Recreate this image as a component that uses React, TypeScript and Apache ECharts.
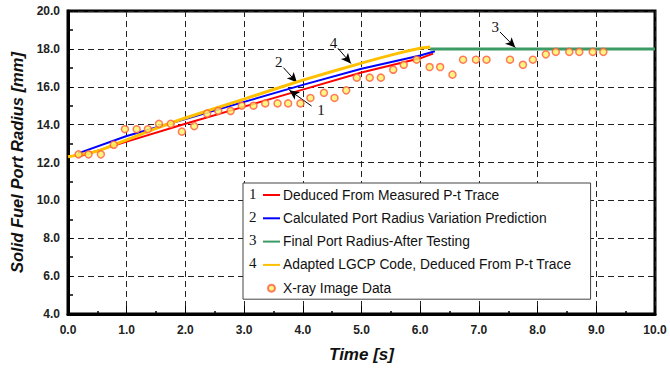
import React, { useEffect, useRef } from "react";
import * as echarts from "echarts";

// X-ray image data
const xrayTime = [0.18, 0.35, 0.56, 0.78, 0.97, 1.17, 1.36, 1.55, 1.75, 1.94, 2.15, 2.37, 2.56, 2.77, 2.96, 3.16, 3.36, 3.57, 3.75, 3.96, 4.13, 4.36, 4.54, 4.74, 4.92, 5.14, 5.33, 5.54, 5.72, 5.94, 6.16, 6.34, 6.55, 6.73, 6.95, 7.13, 7.53, 7.75, 7.92, 8.14, 8.31, 8.54, 8.71, 8.94, 9.12];
const xrayRadius = [12.43, 12.43, 12.43, 12.94, 13.76, 13.76, 13.76, 14.04, 14.04, 13.63, 13.92, 14.58, 14.72, 14.72, 15.0, 15.0, 15.12, 15.12, 15.12, 15.12, 15.41, 15.68, 15.41, 15.81, 16.48, 16.48, 16.48, 16.9, 17.16, 17.43, 17.04, 17.04, 16.64, 17.43, 17.43, 17.43, 17.43, 17.16, 17.43, 17.71, 17.84, 17.84, 17.84, 17.84, 17.84];

// 1 Deduced from measured P-t trace
const deducedTime = [0.17, 1, 2, 3, 4, 5, 6, 6.22];
const deducedRadius = [12.3, 13.1, 14.05, 14.95, 15.85, 16.75, 17.5, 17.75];
// 2 Calculated port radius variation prediction
const calcTime = [0.17, 1, 2, 3, 4, 5, 6, 6.25];
const calcRadius = [12.48, 13.4, 14.3, 15.2, 16.1, 16.95, 17.65, 17.87];
// 3 Final port radius after testing
const finalTime = [6.17, 10];
const finalRadius = [18, 18];
// 4 Adapted LGCP code
const lgcpTime = [0, 0.5, 1, 1.5, 2, 3, 4, 5, 5.6, 6.0, 6.17];
const lgcpRadius = [12.3, 12.6, 13.2, 13.8, 14.35, 15.35, 16.35, 17.25, 17.75, 18.03, 18.1];

// annotation arrows (data coordinates)
const annotLabels = ["1", "2", "3", "4"];
const annotFrom = [[4.15, 14.98], [3.67, 17.01], [7.36, 18.89], [4.6, 18.03]];
const annotTo = [[3.77, 15.82], [3.9, 16.22], [7.62, 18.07], [4.82, 17.23]];

const legendNames = [
  "Deduced From Measured P-t Trace",
  "Calculated Port Radius Variation Prediction",
  "Final Port Radius-After Testing",
  "Adapted LGCP Code, Deduced From P-t Trace",
  "X-ray Image Data",
];
const legendNumbers = ["1", "2", "3", "4"];

const zip = (a: number[], b: number[]) => a.map((v, i) => [v, b[i]]);

export default function App() {
  const ref = useRef<HTMLDivElement>(null);
  useEffect(() => {
    document.body.style.margin = "0";
    const chart = echarts.init(ref.current!, null, { renderer: "svg" });
    const sans = "'Liberation Sans', Arial, sans-serif";
    const serif = "'Liberation Serif', 'Times New Roman', serif";
    const legTop = 183;
    const legPadTop = 4;
    const rowH = 16;
    const rowGap = 7.3;
    const option: any = {
      animation: false,
      backgroundColor: "#fff",
      grid: {
        left: 68,
        right: 15,
        top: 11,
        bottom: 62,
        show: true,
        borderColor: "#000",
        borderWidth: 3,
        backgroundColor: "transparent",
      },
      xAxis: {
        type: "value",
        min: 0,
        max: 10,
        interval: 1,
        name: "Time [s]",
        nameLocation: "middle",
        nameGap: 32,
        nameTextStyle: { fontFamily: sans, fontSize: 17, fontWeight: "bold", fontStyle: "italic", color: "#111" },
        axisLine: { show: true, lineStyle: { color: "#000", width: 3 } },
        axisTick: { show: true, inside: true, length: 8, lineStyle: { color: "#000", width: 1 } },
        minorTick: { show: true, splitNumber: 2, length: 3, lineStyle: { color: "#000", width: 1.5 } },
        axisLabel: { formatter: (v: number) => v.toFixed(1), fontFamily: sans, fontSize: 12, fontWeight: "bold", color: "#222", margin: 10 },
        splitLine: { show: true, lineStyle: { color: "#222", width: 1, type: [6, 4] } },
      },
      yAxis: {
        type: "value",
        min: 4,
        max: 20,
        interval: 2,
        name: "Solid Fuel Port Radius [mm]",
        nameLocation: "middle",
        nameGap: 41,
        nameTextStyle: { fontFamily: sans, fontSize: 16.5, fontWeight: "bold", fontStyle: "italic", color: "#111" },
        axisLine: { show: true, lineStyle: { color: "#000", width: 3 } },
        axisTick: { show: true, inside: true, length: 5, lineStyle: { color: "#000", width: 1 } },
        minorTick: { show: true, splitNumber: 2, length: 5, lineStyle: { color: "#000", width: 1.5 } },
        axisLabel: { formatter: (v: number) => v.toFixed(1), fontFamily: sans, fontSize: 12, fontWeight: "bold", color: "#222", margin: 8 },
        splitLine: { show: true, lineStyle: { color: "#222", width: 1, type: [6, 4] } },
      },
      legend: {
        orient: "vertical",
        left: 243,
        top: legTop,
        padding: [legPadTop, 19, 3, 19],
        itemGap: rowGap,
        itemWidth: 17,
        itemHeight: 7,
        backgroundColor: "#fff",
        borderColor: "#444",
        borderWidth: 1,
        borderRadius: 0,
        selectedMode: false,
        data: legendNames.map((n, i) => (i < 4 ? { name: n, itemStyle: { opacity: 0 } } : { name: n })),
        textStyle: { fontFamily: sans, fontSize: 13.8, lineHeight: rowH, color: "#111", padding: [0, 0, 0, -2] },
      },
      graphic: legendNumbers.map((n, i) => ({
        type: "text",
        z: 100,
        left: 249,
        top: legTop + legPadTop + i * (rowH + rowGap) - 1,
        style: { text: n, font: `15px ${serif}`, fill: "#111" },
      })),
      series: [
        {
          name: legendNames[0],
          type: "line",
          data: zip(deducedTime, deducedRadius),
          symbol: "none",
          lineStyle: { color: "#FF0000", width: 2 },
          itemStyle: { color: "#FF0000" },
          z: 3,
        },
        {
          name: legendNames[1],
          type: "line",
          data: zip(calcTime, calcRadius),
          symbol: "none",
          lineStyle: { color: "#0000FF", width: 2 },
          itemStyle: { color: "#0000FF" },
          z: 4,
        },
        {
          name: legendNames[2],
          type: "line",
          data: zip(finalTime, finalRadius),
          symbol: "none",
          lineStyle: { color: "#3C9A64", width: 3 },
          itemStyle: { color: "#3C9A64" },
          z: 4,
        },
        {
          name: legendNames[3],
          type: "line",
          data: zip(lgcpTime, lgcpRadius),
          symbol: "none",
          smooth: 0.2,
          lineStyle: { color: "#FFC000", width: 3 },
          itemStyle: { color: "#FFC000" },
          z: 5,
        },
        {
          name: legendNames[4],
          type: "scatter",
          data: zip(xrayTime, xrayRadius),
          symbol: "circle",
          symbolSize: 7,
          itemStyle: { color: "#FFF266", borderColor: "#FF5A3C", borderWidth: 1.5 },
          z: 6,
        },
        {
          name: "annotations",
          type: "line",
          data: [],
          silent: true,
          markLine: {
            silent: true,
            animation: false,
            symbol: ["none", "arrow"],
            symbolSize: [7, 10],
            lineStyle: { color: "#000", width: 1, type: "solid" },
            label: {
              show: true,
              position: "start",
              distance: 7,
              fontFamily: serif,
              fontSize: 15,
              color: "#111",
            },
            data: annotLabels.map((lab, i) => [
              { coord: annotFrom[i], name: lab, label: { formatter: lab } },
              { coord: annotTo[i] },
            ]),
          },
          z: 7,
        },
      ],
    };
    chart.setOption(option);
    return () => chart.dispose();
  }, []);
  return <div ref={ref} style={{ position: "fixed", left: 0, top: 0, width: 670, height: 376 }} />;
}
